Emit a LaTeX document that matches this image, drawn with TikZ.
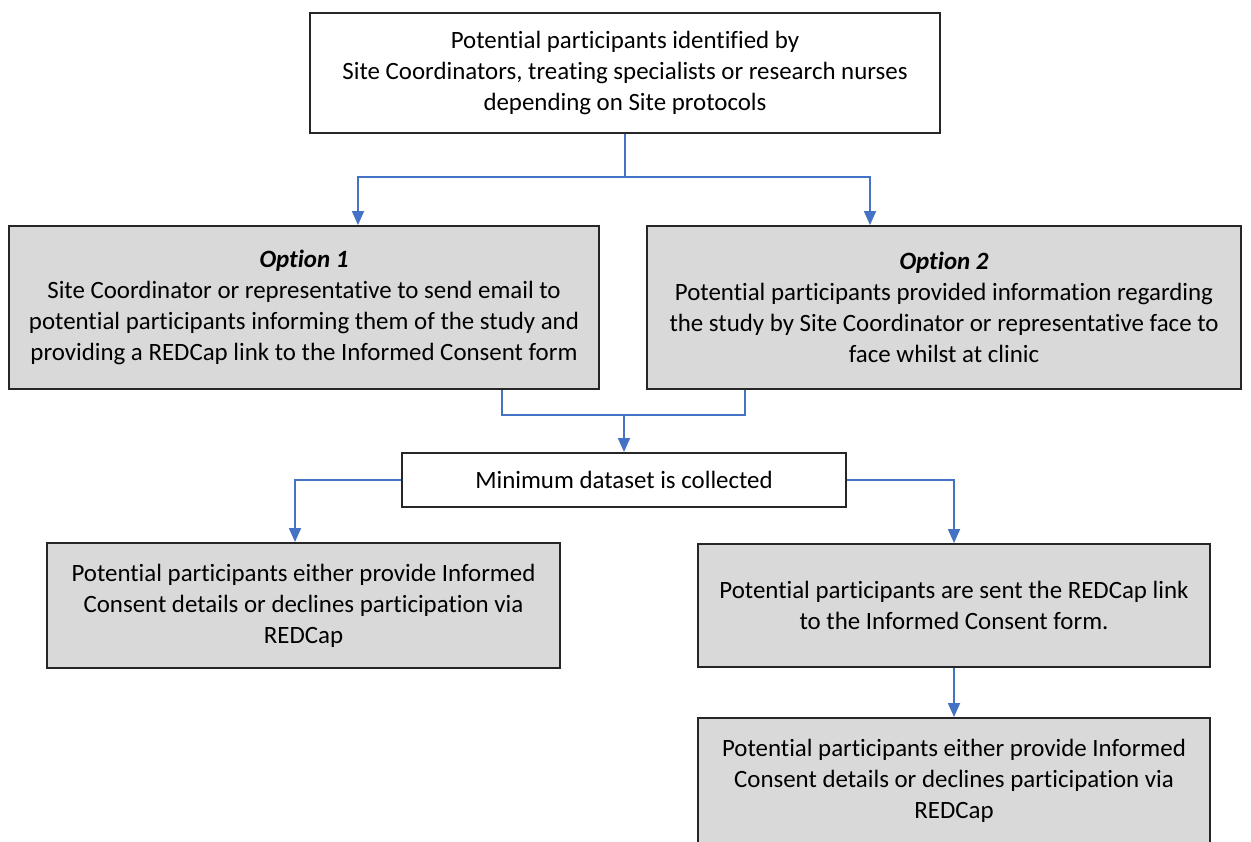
\documentclass[tikz,border=0pt]{standalone}
\usepackage{fontspec}
\setmainfont{Carlito}[Ligatures={NoCommon,NoContextual}, Contextuals={NoAlternate}]
\usepackage{tikz}
\usetikzlibrary{positioning}
\usetikzlibrary{arrows.meta}

\definecolor{boxgrey}{HTML}{D9D9D9}
\definecolor{linkblue}{HTML}{4472C4}

\tikzset{
  plainbox/.style={draw=black!85, line width=1pt, fill=white, align=center, inner sep=0pt,
    font=\fontsize{12.45}{15.5}\selectfont},
  greybox/.style={plainbox, fill=boxgrey},
  joinline/.style={draw=linkblue, line width=0.9pt},
  link/.style={joinline, -{Triangle[length=7pt, width=6pt]}},
}

\begin{document}
\begin{tikzpicture}[x=0.5pt, y=-0.5pt]
    % page frame
    \clip (0, 0) rectangle (1251, 841);

    % boxes
    \node[plainbox, minimum width=315pt, minimum height=60pt] (ident) at (625, 73)
      {Potential participants identified by\\Site Coordinators, treating specialists or research nurses\\depending on Site protocols};

    \node[greybox, minimum width=295pt, minimum height=81.5pt] (opt1) at (304, 307.5)
      {\textbf{\textit{Option 1}}\\Site Coordinator or representative to send email to\\potential participants informing them of the study and\\providing a REDCap link to the Informed Consent form};
    \node[greybox, minimum width=297pt, minimum height=81.5pt] (opt2) at (944, 307.5)
      {\textbf{\textit{Option 2}}\\Potential participants provided information regarding\\the study by Site Coordinator or representative face to\\face whilst at clinic};

    \node[plainbox, minimum width=222pt, minimum height=27pt] (mindata) at (624, 480)
      {Minimum dataset is collected};

    \node[greybox, minimum width=256.5pt, minimum height=62.5pt] (declleft) at (303.5, 605.5)
      {Potential participants either provide Informed\\Consent details or declines participation via\\REDCap};
    \node[greybox, minimum width=256pt, minimum height=61.5pt] (sent) at (954, 605.5)
      {Potential participants are sent the REDCap link\\to the Informed Consent form.};
    \node[greybox, minimum width=256pt, minimum height=63pt] (declright) at (954, 781)
      {Potential participants either provide Informed\\Consent details or declines participation via\\REDCap};

    % bend points
    \coordinate (splitL) at (358, 177);
    \coordinate (splitR) at (870, 177);
    \coordinate (joinL) at (502, 415);
    \coordinate (joinR) at (745, 415);
    \coordinate (dropL) at (295, 481);

    % connectors
    \draw[link] (ident.south) |- (splitL) -- (splitL |- opt1.north);
    \draw[link] (ident.south) |- (splitR) -- (splitR |- opt2.north);

    \draw[joinline] (joinL |- opt1.south) -- (joinL) -- (joinR) -- (joinR |- opt2.south);
    \draw[link] (mindata.north |- joinL) -- (mindata.north);

    \draw[link] (mindata.west) -| (dropL |- declleft.north);
    \draw[link] (mindata.east) -| (sent.north);
    \draw[link] (sent.south) -- (declright.north);
\end{tikzpicture}
\end{document}
